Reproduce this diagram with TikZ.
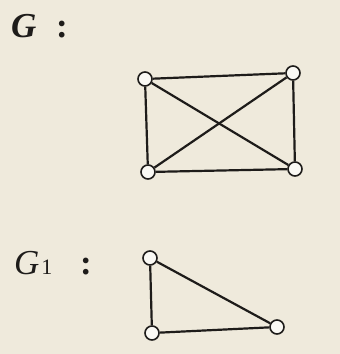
\documentclass[tikz,border=0pt]{standalone}
\usepackage{fontspec}
\setmainfont{Liberation Serif}
\definecolor{paper}{RGB}{239,234,220}
\definecolor{ink}{RGB}{30,28,26}
\begin{document}
\begin{tikzpicture}[x=1pt,y=1pt,
  vtx/.style={circle,draw=ink,fill=white!70!paper,line width=1.6pt,minimum size=14pt,inner sep=0pt},
  edge/.style={draw=ink,line width=2.2pt},
  lbl/.style={inner sep=0pt,anchor=base west,text=ink,font=\fontsize{35}{38}\selectfont}]
\fill[paper] (0,0) rectangle (340,354);
\useasboundingbox (0,0) rectangle (340,354);
% labels
\node[lbl] (gname) at (11,316) {\textbf{\textit{G}}};
\node[lbl] (gcolon) at (56,316) {\textbf{:}};
\node[lbl] (g1name) at (14,79) {\textit{G}\kern2pt{\fontsize{22}{24}\selectfont 1}};
\node[lbl] (g1colon) at (80,79) {\textbf{:}};
% graph G
\node[vtx] (a) at (145,275) {};
\node[vtx] (b) at (293,281) {};
\node[vtx] (c) at (148,182) {};
\node[vtx] (d) at (295,185) {};
\draw[edge] (a) -- (b);
\draw[edge] (b) -- (d);
\draw[edge] (d) -- (c);
\draw[edge] (c) -- (a);
\draw[edge] (a) -- (d);
\draw[edge] (b) -- (c);
% graph G1
\node[vtx] (p) at (150,96) {};
\node[vtx] (q) at (152,21) {};
\node[vtx] (r) at (277,27) {};
\draw[edge] (p) -- (q);
\draw[edge] (q) -- (r);
\draw[edge] (r) -- (p);
\end{tikzpicture}
\end{document}
